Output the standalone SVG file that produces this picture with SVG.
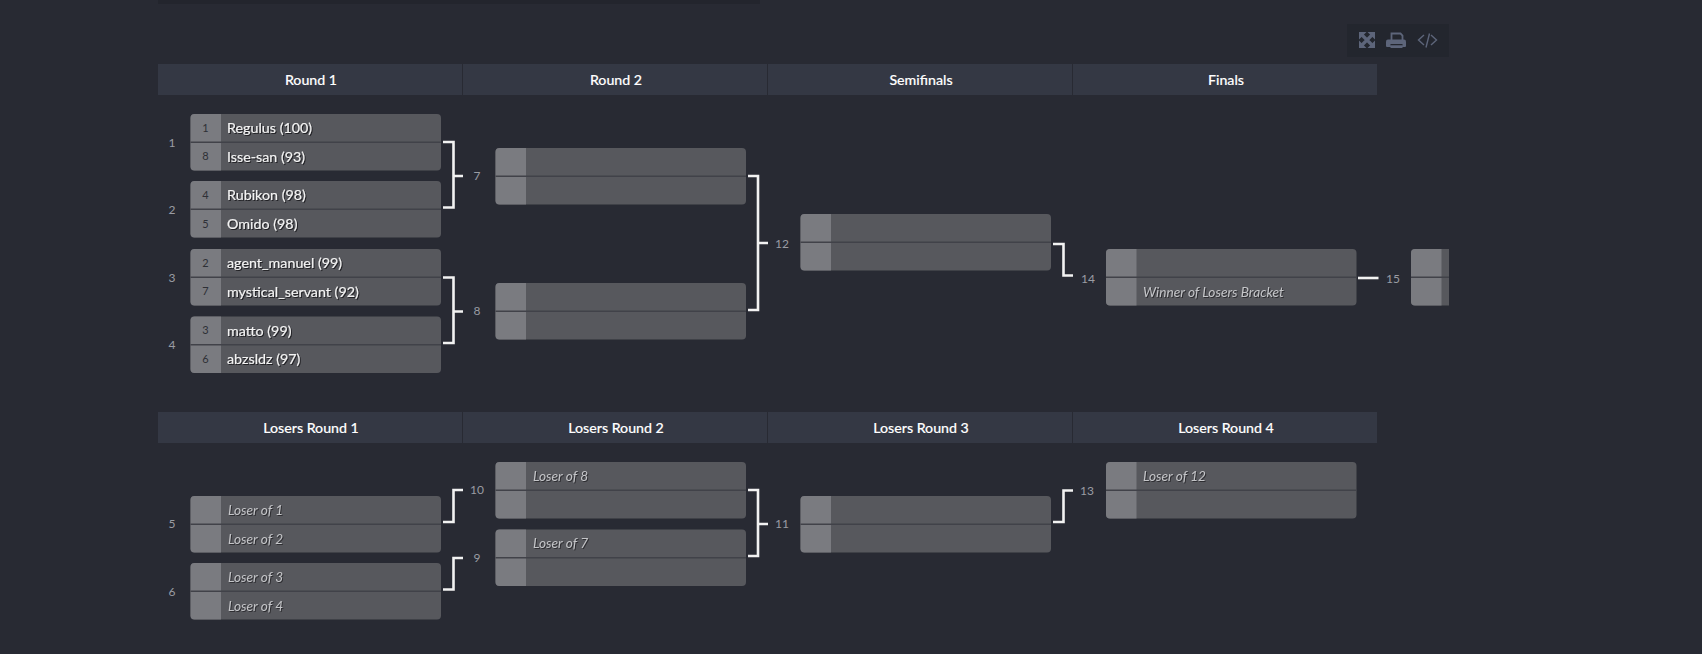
<svg xmlns="http://www.w3.org/2000/svg" width="1702" height="654" viewBox="0 0 1702 654">
<style>
text{font-family:Lato,"Noto Sans","Liberation Sans",sans-serif}
.hd{fill:#343844}
.ht{fill:#fff;font-size:14.2px;text-anchor:middle;font-weight:500;stroke:#fff;stroke-width:.15}
.box{fill:#57585d}
.seed{fill:#7a7b80}
.div{stroke:#414249;stroke-width:1.5}
.n{fill:#f4f4f4;font-size:14.3px;stroke:#f4f4f4;stroke-width:.2;filter:drop-shadow(1px 1px 0 #222226)}
.l{fill:#c4c5c8;font-size:13.7px;font-style:italic;filter:drop-shadow(1px 1px 0 #2e2e32)}
.s{fill:#2e3036;font-size:11px;text-anchor:middle}
.m{fill:#9a9ca3;font-size:12px;text-anchor:middle}
.c{fill:none;stroke:#f2f2f2;stroke-width:2.6}
.ic{fill:#5d657a}
.icl{fill:none;stroke:#5d657a;stroke-width:3.2}
.ics{fill:none;stroke:#5d657a;stroke-width:1.4}
.icp{fill:none;stroke:#5d657a;stroke-width:1.8}
.ich{fill:#23262e}
</style>
<defs>
<g id="shell">
<rect class="box" width="250.500" height="56.500" rx="4"/>
<path class="seed" d="M0 4a4 4 0 0 1 4-4H30.500V56.500H4a4 4 0 0 1-4-4Z"/>
<line class="div" x1="0" x2="250.500" y1="28.200" y2="28.200"/>
</g>
<clipPath id="clipEdge"><rect x="1400" y="240" width="49" height="80"/></clipPath>
</defs>
<rect width="1702" height="654" fill="#282a33"/>
<rect x="158" y="0" width="602" height="4" fill="#23252d"/>
<g id="toolbar">
<rect x="1347" y="24" width="102" height="33" fill="#23262e"/>
<path class="icl" d="M1362 35L1372 45M1372 35L1362 45"/>
<path class="ic" d="M1359 32h7.500L1359 39.500ZM1375 32v7.500L1367.500 32ZM1359 48v-7.500L1366.500 48ZM1375 48h-7.500L1375 40.500Z"/>
<path class="icp" d="M1391.500 40V33.500h9l2 2V40"/>
<path class="ic" d="M1389 39.500h15a2 2 0 0 1 2 2V46a1 1 0 0 1-1 1h-18a1 1 0 0 1-1-1V41.500a2 2 0 0 1 2-2Z"/>
<rect class="ich" x="1390.500" y="44" width="12" height="1.500"/>
<rect class="ic" x="1390.500" y="45.500" width="12" height="2.500"/>
<path class="ics" d="M1424 35l-5.500 5 5.500 5M1431 35l5.500 5-5.500 5M1429.500 33.500l-3.500 14"/>
</g>
<g id="headers">
<rect class="hd" x="158" y="64" width="304" height="31"/><rect class="hd" x="463" y="64" width="304" height="31"/><rect class="hd" x="768" y="64" width="304" height="31"/><rect class="hd" x="1073" y="64" width="304" height="31"/>
<text class="ht" x="311" y="85">Round 1</text><text class="ht" x="616" y="85">Round 2</text><text class="ht" x="921" y="85">Semifinals</text><text class="ht" x="1226" y="85">Finals</text>
<rect class="hd" x="158" y="412" width="304" height="31"/><rect class="hd" x="463" y="412" width="304" height="31"/><rect class="hd" x="768" y="412" width="304" height="31"/><rect class="hd" x="1073" y="412" width="304" height="31"/>
<text class="ht" x="311" y="433">Losers Round 1</text><text class="ht" x="616" y="433">Losers Round 2</text><text class="ht" x="921" y="433">Losers Round 3</text><text class="ht" x="1226" y="433">Losers Round 4</text>
</g>
<g id="connectors">
<path class="c" d="M443 142H453.500V207.500H443M453.500 176H463"/>
<path class="c" d="M443 277.500H453.500V343H443M453.500 311.500H463"/>
<path class="c" d="M748 176H758V310H748M758 243H768"/>
<path class="c" d="M1053 244H1063.500V275.500H1073"/>
<path class="c" d="M1358 278H1378.500"/>
<path class="c" d="M443 522H453.500V490H463"/>
<path class="c" d="M443 589.500H453.500V558H463"/>
<path class="c" d="M748 490H758V556H748M758 524H768"/>
<path class="c" d="M1053 522H1063.500V490.500H1073"/>
</g>
<g id="m1"><use href="#shell" x="190.500" y="114"/><text class="m" x="172" y="147">1</text><text class="s" x="205.500" y="132">1</text><text class="n" x="227" y="133">Regulus (100)</text><text class="s" x="205.500" y="160">8</text><text class="n" x="227" y="162">Isse-san (93)</text></g>
<g id="m2"><use href="#shell" x="190.500" y="181"/><text class="m" x="172" y="214">2</text><text class="s" x="205.500" y="199">4</text><text class="n" x="227" y="200">Rubikon (98)</text><text class="s" x="205.500" y="228">5</text><text class="n" x="227" y="229">Omido (98)</text></g>
<g id="m3"><use href="#shell" x="190.500" y="249"/><text class="m" x="172" y="282">3</text><text class="s" x="205.500" y="267">2</text><text class="n" x="227" y="268">agent_manuel (99)</text><text class="s" x="205.500" y="295">7</text><text class="n" x="227" y="297">mystical_servant (92)</text></g>
<g id="m4"><use href="#shell" x="190.500" y="316.500"/><text class="m" x="172" y="349">4</text><text class="s" x="205.500" y="334">3</text><text class="n" x="227" y="335.500">matto (99)</text><text class="s" x="205.500" y="363">6</text><text class="n" x="227" y="364">abzsldz (97)</text></g>
<g id="m7"><use href="#shell" x="495.500" y="148"/><text class="m" x="477" y="180">7</text></g>
<g id="m8"><use href="#shell" x="495.500" y="283"/><text class="m" x="477" y="315">8</text></g>
<g id="m12"><use href="#shell" x="800.500" y="214"/><text class="m" x="782" y="248">12</text></g>
<g id="m14"><use href="#shell" x="1106" y="249"/><text class="m" x="1088" y="283">14</text><text class="l" x="1143" y="297">Winner of Losers Bracket</text></g>
<g id="m15"><g clip-path="url(#clipEdge)"><use href="#shell" x="1411" y="249"/></g><text class="m" x="1393" y="283">15</text></g>
<g id="m5"><use href="#shell" x="190.500" y="496"/><text class="m" x="172" y="528">5</text><text class="l" x="228" y="515">Loser of 1</text><text class="l" x="228" y="543.500">Loser of 2</text></g>
<g id="m6"><use href="#shell" x="190.500" y="563"/><text class="m" x="172" y="596">6</text><text class="l" x="228" y="582">Loser of 3</text><text class="l" x="228" y="611">Loser of 4</text></g>
<g id="m10"><use href="#shell" x="495.500" y="462"/><text class="m" x="477" y="494">10</text><text class="l" x="533" y="481">Loser of 8</text></g>
<g id="m9"><use href="#shell" x="495.500" y="529.500"/><text class="m" x="477" y="562">9</text><text class="l" x="533" y="548">Loser of 7</text></g>
<g id="m11"><use href="#shell" x="800.500" y="496"/><text class="m" x="782" y="528">11</text></g>
<g id="m13"><use href="#shell" x="1106" y="462"/><text class="m" x="1087" y="495">13</text><text class="l" x="1143" y="481">Loser of 12</text></g>
</svg>
